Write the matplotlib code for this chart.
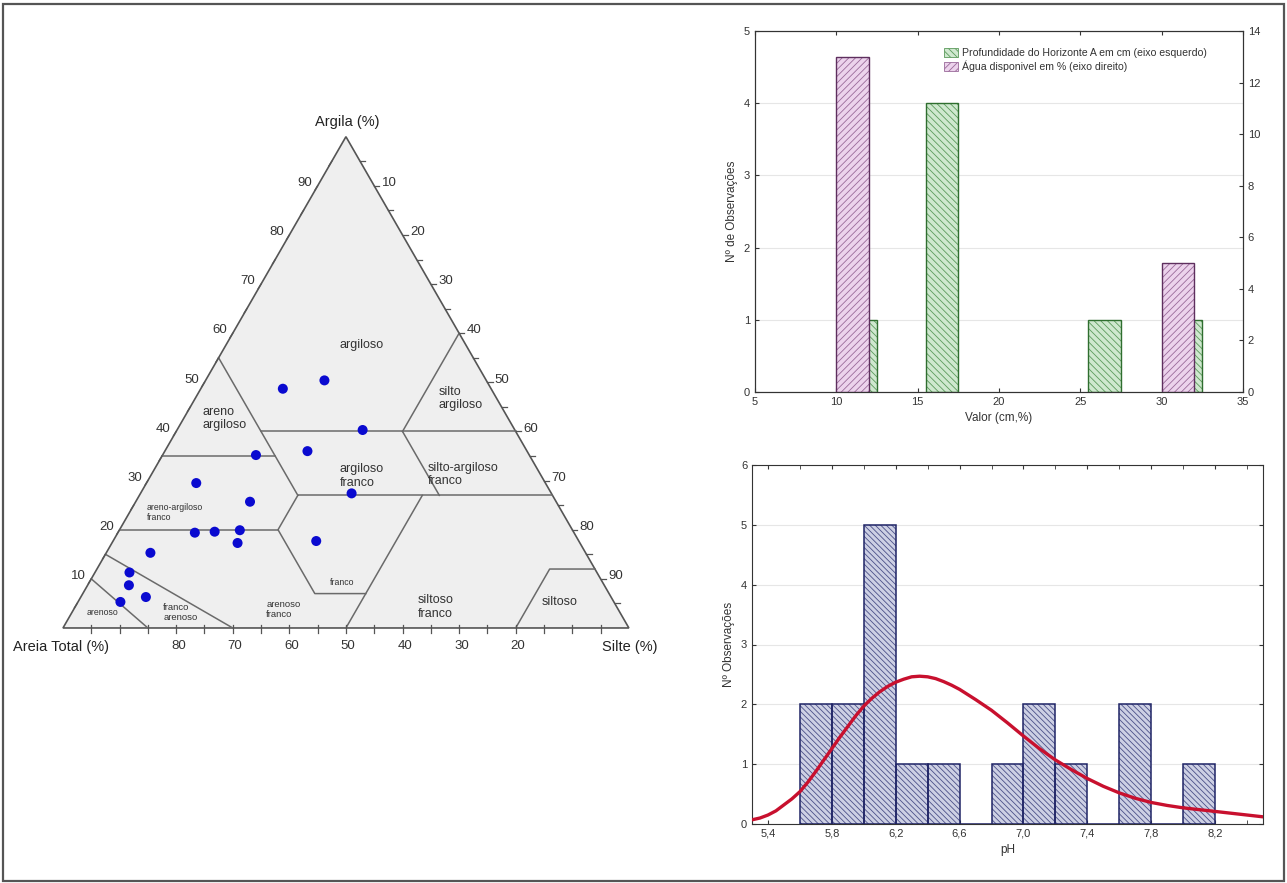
import numpy as np
import matplotlib
matplotlib.use("Agg")
import matplotlib.pyplot as plt
from matplotlib.patches import Polygon, Rectangle, Patch

plt.rcParams['font.family'] = ['Liberation Sans', 'DejaVu Sans']
plt.rcParams['hatch.linewidth'] = 0.6

# --- ternary data (percent) ---
clay = [48.7, 50.4, 40.3, 35.2, 36.0, 29.5, 27.4, 25.7, 19.4, 19.6, 19.9, 17.3, 17.7, 15.3, 11.3, 8.7, 6.3, 5.3]
silt = [14.5, 21.0, 32.8, 16.5, 25.2, 8.8, 37.3, 20.2, 13.6, 17.0, 21.3, 22.2, 35.9, 7.8, 6.1, 7.3, 11.5, 7.5]

# class boundaries as (sand, silt, clay) polylines
boundaries = [
    [(90, 0, 10), (85, 15, 0)],
    [(85, 0, 15), (70, 30, 0)],
    [(80, 0, 20), (52, 28, 20)],
    [(65, 0, 35), (45, 20, 35)],
    [(45, 0, 55), (45, 28, 27)],
    [(45, 28, 27), (0, 73, 27)],
    [(45, 15, 40), (0, 60, 40)],
    [(20, 40, 40), (20, 53, 27)],
    [(20, 40, 40), (0, 40, 60)],
    [(50, 50, 0), (23, 50, 27)],
    [(45, 28, 27), (52, 28, 20), (52, 41, 7), (43, 50, 7)],
    [(20, 80, 0), (8, 80, 12), (0, 88, 12)],
]

class_labels = [
    ("argiloso", 52.8, 49.9, 'center', 9),
    ("areno\nargiloso", 24.7, 36.9, 'left', 9),
    ("silto\nargiloso", 66.3, 40.4, 'left', 9),
    ("argiloso\nfranco", 48.9, 26.8, 'left', 9),
    ("silto-argiloso\nfranco", 64.5, 27.0, 'left', 9),
    ("areno-argiloso\nfranco", 14.8, 20.3, 'left', 6.3),
    ("franco", 49.3, 8.1, 'center', 6.3),
    ("arenoso", 6.9, 2.8, 'center', 6.3),
    ("franco\narenoso", 17.7, 2.8, 'left', 6.8),
    ("arenoso\nfranco", 35.9, 3.2, 'left', 6.8),
    ("siltoso\nfranco", 62.7, 3.7, 'left', 9),
    ("siltoso", 87.8, 4.6, 'center', 9),
]

# --- top right histogram data ---
depth_left = [10.5, 15.5, 25.5, 30.5]
depth_counts = [1, 4, 1, 1]
water_left = [10, 30]
water_counts = [13, 5]

# --- bottom right pH histogram ---
ph_edges = [5.6, 5.8, 6.0, 6.2, 6.4, 6.6, 6.8, 7.0, 7.2, 7.4, 7.6, 7.8, 8.0]
ph_counts = [2, 2, 5, 1, 1, 0, 1, 2, 1, 0, 2, 0, 1]
curve_x = [5.30, 5.35, 5.40, 5.45, 5.50, 5.55, 5.60, 5.65, 5.70, 5.75, 5.80, 5.85, 5.90, 5.95,
           6.00, 6.05, 6.10, 6.15, 6.20, 6.25, 6.30, 6.35, 6.40, 6.45, 6.50, 6.55, 6.60,
           6.70, 6.80, 6.90, 7.00, 7.10, 7.20, 7.30, 7.40, 7.50, 7.60, 7.70, 7.80, 7.90,
           8.00, 8.10, 8.20, 8.30, 8.40, 8.50]
curve_y = [0.07, 0.10, 0.15, 0.22, 0.32, 0.42, 0.54, 0.70, 0.88, 1.07, 1.26, 1.45, 1.63, 1.81,
           1.97, 2.10, 2.21, 2.30, 2.37, 2.42, 2.46, 2.47, 2.46, 2.43, 2.38, 2.32, 2.25,
           2.08, 1.90, 1.69, 1.47, 1.26, 1.07, 0.91, 0.76, 0.63, 0.52, 0.43, 0.36, 0.31,
           0.27, 0.24, 0.21, 0.18, 0.15, 0.12]

H = np.sqrt(3) / 2


def tern(si, cl):
    return si + cl / 2.0, cl * H


fig = plt.figure(figsize=(12.87, 8.83), dpi=100)
fig.patches.append(Rectangle((0.002, 0.002), 0.996, 0.994, transform=fig.transFigure,
                             fill=False, ec='#555555', lw=1.6))

# ================= ternary =================
ax = fig.add_axes([0, 1 - 680 / 883, 690 / 1287, 600 / 883])
ax.set_xlim(-11.13, 110.8)
ax.set_ylim(-9.17, 96.6)
ax.axis('off')

tri = Polygon([tern(0, 0), tern(100, 0), tern(0, 100)], closed=True,
              fc='#efefef', ec='#555555', lw=1.2, zorder=1)
ax.add_patch(tri)

for line in boundaries:
    pts = [tern(si, cl) for (sa, si, cl) in line]
    ax.plot([p[0] for p in pts], [p[1] for p in pts], color='#6a6a6a', lw=1.1, zorder=2)

tk = dict(color='#555555', lw=0.9, zorder=2)
for v in range(5, 100, 5):
    # left edge (clay)
    x0, y0 = tern(0, v)
    ax.plot([x0, x0 - 0.5], [y0, y0 - 0.8], **tk)
    # right edge (silt)
    x1, y1 = tern(v, 100 - v)
    ax.plot([x1, x1 + 0.9], [y1, y1], **tk)
    # bottom edge (sand)
    x2, y2 = tern(100 - v, 0)
    ax.plot([x2, x2], [y2 - 0.9, y2 + 0.6], **tk)

for v in range(10, 100, 10):
    x0, y0 = tern(0, v)
    ax.text(x0 - 1.0, y0 + 0.5, str(v), ha='right', va='center', fontsize=9.5, color='#333333')
    x1, y1 = tern(v, 100 - v)
    ax.text(x1 + 1.3, y1 + 0.5, str(v), ha='left', va='center', fontsize=9.5, color='#333333')
for v in range(20, 90, 10):
    x2, y2 = tern(100 - v, 0)
    ax.text(x2 + 0.4, -3.1, str(v), ha='center', va='center', fontsize=9.5, color='#333333')

ax.text(50.2, 89.2, "Argila (%)", ha='center', va='center', fontsize=10.5, color='#222222')
ax.text(-8.8, -3.3, "Areia Total (%)", ha='left', va='center', fontsize=10.5, color='#222222')
ax.text(105.1, -3.3, "Silte (%)", ha='right', va='center', fontsize=10.5, color='#222222')

for txt, lx, ly, ha, fs in class_labels:
    ax.text(lx, ly, txt, ha=ha, va='center', fontsize=fs, color='#333333',
            linespacing=1.15, zorder=3)

px, py = zip(*[tern(s, c) for s, c in zip(silt, clay)])
ax.scatter(px, py, s=52, color='#0a0ad0', zorder=5, edgecolors='none')

# ================= top right =================
a1 = fig.add_axes([755 / 1287, 1 - 392 / 883, 488 / 1287, 361 / 883])
a1.bar(depth_left, depth_counts, width=2, align='edge', color='#cfe8cf',
       edgecolor='#5c9a5c', hatch='\\\\\\\\\\', lw=0, zorder=2)
a1.bar(depth_left, depth_counts, width=2, align='edge', fill=False,
       edgecolor='#2f6e2f', lw=1.0, zorder=3)
a1.set_xlim(5, 35)
a1.set_ylim(0, 5)
a1.set_xticks(range(5, 36, 5))
a1.set_yticks(range(0, 6))
a1.grid(axis='y', color='#e6e6e6', lw=0.8, zorder=0)
a1.set_axisbelow(True)
a1.tick_params(direction='in', top=True, labelsize=8, length=3, colors='#333333')
a1.set_ylabel("Nº de Observações", fontsize=8.5, color='#333333')
a1.set_xlabel("Valor (cm,%)", fontsize=8.5, color='#333333')

a2 = a1.twinx()
a2.bar(water_left, water_counts, width=2, align='edge', color='#ecd3ec',
       edgecolor='#9a6a9a', hatch='/////', lw=0, zorder=2)
a2.bar(water_left, water_counts, width=2, align='edge', fill=False,
       edgecolor='#5e2f5e', lw=1.0, zorder=3)
a2.set_ylim(0, 14)
a2.set_yticks(range(0, 15, 2))
a2.tick_params(direction='in', labelsize=8, length=3, colors='#333333')
for a in (a1, a2):
    for s in a.spines.values():
        s.set_color('#333333')

handles = [
    Patch(facecolor='#cfe8cf', edgecolor='#5c9a5c', hatch='\\\\\\\\\\', lw=0.6,
          label="Profundidade do Horizonte A em cm (eixo esquerdo)"),
    Patch(facecolor='#ecd3ec', edgecolor='#9a6a9a', hatch='/////', lw=0.6,
          label="Água disponivel em % (eixo direito)"),
]
fig.legend(handles=handles, loc='upper left', bbox_to_anchor=(934 / 1287, 1 - 38 / 883),
           frameon=False, fontsize=7.6, handlelength=1.4, handleheight=1.0,
           handletextpad=0.4, labelspacing=0.25, labelcolor='#333333')

# ================= bottom right =================
a3 = fig.add_axes([752 / 1287, 1 - 824 / 883, 511 / 1287, 359 / 883])
a3.bar(ph_edges, ph_counts, width=0.2, align='edge', color='#cdd0e4',
       edgecolor='#4b5088', hatch='\\\\\\\\\\\\', lw=0, zorder=2)
a3.bar(ph_edges, ph_counts, width=0.2, align='edge', fill=False,
       edgecolor='#1f2466', lw=1.1, zorder=3)
a3.plot(curve_x, curve_y, color='#c8102e', lw=2.4, zorder=4, solid_capstyle='round')
a3.set_xlim(5.3, 8.5)
a3.set_ylim(0, 6)
major = [5.4, 5.8, 6.2, 6.6, 7.0, 7.4, 7.8, 8.2]
a3.set_xticks(major)
a3.set_xticklabels([f"{v:.1f}".replace('.', ',') for v in major])
a3.set_xticks([5.6, 6.0, 6.4, 6.8, 7.2, 7.6, 8.0, 8.4], minor=True)
a3.set_yticks(range(0, 7))
a3.grid(axis='y', color='#e6e6e6', lw=0.8, zorder=0)
a3.set_axisbelow(True)
a3.tick_params(which='both', direction='in', top=True, right=True, labelsize=8,
               length=3, colors='#333333')
a3.set_ylabel("Nº Observações", fontsize=8.5, color='#333333')
a3.set_xlabel("pH", fontsize=8.5, color='#333333')
for s in a3.spines.values():
    s.set_color('#333333')

fig.savefig("out.png", dpi=100)
